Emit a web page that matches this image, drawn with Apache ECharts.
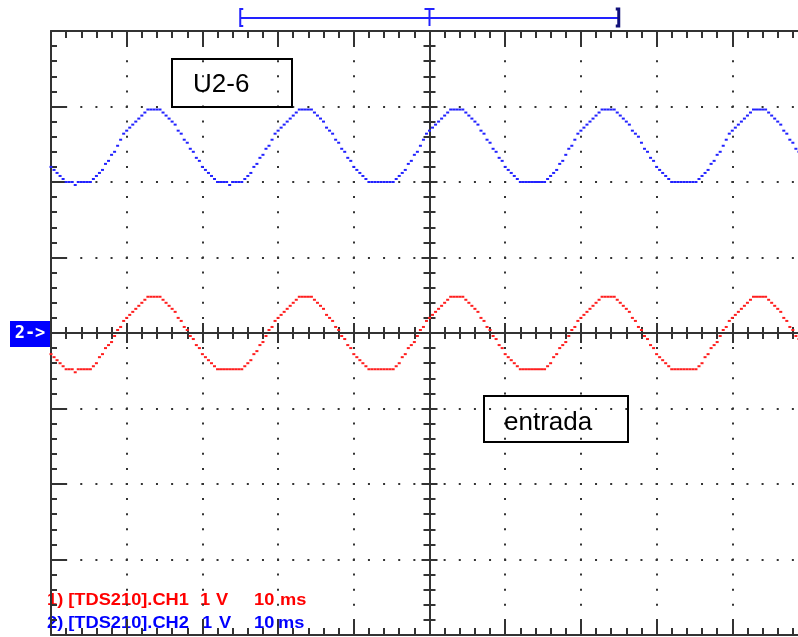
<!DOCTYPE html>
<html>
<head>
<meta charset="utf-8">
<script src="https://cdn.jsdelivr.net/npm/echarts@6/dist/echarts.min.js"></script>
<style>
  html, body { margin: 0; padding: 0; background: #ffffff; }
  #chart { width: 798px; height: 637px; }
</style>
</head>
<body>
<div id="chart"></div>
<script>
// TDS210 capture: 250 samples across 10 divisions, 10 ms/div, 1 V/div
const sampleIntervalMs = 0.4;
const timeRangeMs = [0, 100];
const timeStepMs = 10;
const voltRange = [-4, 4];
const voltStep = 1;
const recordBarMs = [25, 50, 75];

// CH1 (red): input signal "entrada", volts
const ch1Volts = [
  -0.28, -0.32, -0.36, -0.40, -0.44, -0.48, -0.48, -0.48, -0.52, -0.48, -0.48, -0.48, -0.48, -0.48,
  -0.44, -0.40, -0.32, -0.28, -0.20, -0.16, -0.12, -0.04, 0.04, 0.08, 0.16, 0.20, 0.24, 0.28, 0.32, 0.36, 0.40, 0.44,
  0.48, 0.48, 0.48, 0.48, 0.48,
  0.44, 0.40, 0.36, 0.32, 0.28, 0.20, 0.16, 0.08, 0.04, -0.04, -0.08, -0.16, -0.20, -0.28, -0.32, -0.36, -0.40, -0.44,
  -0.48, -0.48, -0.48, -0.48,
  -0.48, -0.48, -0.48, -0.48, -0.48,
  -0.44, -0.40, -0.36, -0.28, -0.24, -0.16, -0.12, -0.04, 0.04, 0.08, 0.16, 0.20, 0.24, 0.28, 0.32, 0.36, 0.40, 0.44,
  0.48, 0.48, 0.48, 0.48, 0.48,
  0.44, 0.40, 0.36, 0.32, 0.24, 0.20, 0.16, 0.08, 0.04, -0.04, -0.08, -0.16, -0.20, -0.28, -0.32, -0.36, -0.40, -0.44,
  -0.48, -0.48, -0.48, -0.48,
  -0.48, -0.48, -0.48, -0.48, -0.48,
  -0.44, -0.40, -0.32, -0.28, -0.20, -0.16, -0.12, -0.04, 0.04, 0.08, 0.16, 0.20, 0.24, 0.28, 0.32, 0.36, 0.40, 0.44,
  0.48, 0.48, 0.48, 0.48, 0.48,
  0.44, 0.40, 0.36, 0.32, 0.28, 0.20, 0.16, 0.08, 0.04, -0.04, -0.08, -0.16, -0.20, -0.28, -0.32, -0.36, -0.40, -0.44,
  -0.48, -0.48, -0.48, -0.48,
  -0.48, -0.48, -0.48, -0.48, -0.48,
  -0.44, -0.40, -0.32, -0.28, -0.20, -0.16, -0.12, -0.04, 0.04, 0.08, 0.16, 0.20, 0.24, 0.28, 0.32, 0.36, 0.40, 0.44,
  0.48, 0.48, 0.48, 0.48, 0.48,
  0.44, 0.40, 0.36, 0.32, 0.28, 0.20, 0.16, 0.08, 0.04, -0.04, -0.08, -0.16, -0.20, -0.28, -0.32, -0.36, -0.40, -0.44,
  -0.48, -0.48, -0.48, -0.48,
  -0.48, -0.48, -0.48, -0.48, -0.48,
  -0.44, -0.40, -0.32, -0.28, -0.20, -0.16, -0.12, -0.04, 0.04, 0.08, 0.16, 0.20, 0.24, 0.28, 0.32, 0.36, 0.40, 0.44,
  0.48, 0.48, 0.48, 0.48, 0.48,
  0.44, 0.40, 0.36, 0.32, 0.28, 0.20, 0.16, 0.08, 0.04, -0.04, -0.08, -0.16, -0.20, -0.28
];

// CH2 (blue): U2-6, volts
const ch2Volts = [
  2.20, 2.16, 2.12, 2.08, 2.04, 2.00, 2.00, 2.00, 1.96, 2.00, 2.00, 2.00, 2.00, 2.00,
  2.04, 2.08, 2.12, 2.16, 2.24, 2.28, 2.36, 2.40, 2.48, 2.56, 2.64, 2.68, 2.72, 2.76, 2.80, 2.84, 2.88, 2.92,
  2.96, 2.96, 2.96, 2.96, 2.96,
  2.92, 2.88, 2.84, 2.80, 2.76, 2.68, 2.64, 2.56, 2.52, 2.44, 2.40, 2.32, 2.28, 2.20, 2.16, 2.12, 2.08, 2.04,
  2.00, 2.00, 2.00, 2.00,
  1.96, 2.00, 2.00, 2.00, 2.00,
  2.04, 2.08, 2.12, 2.20, 2.24, 2.32, 2.36, 2.44, 2.48, 2.56, 2.64, 2.68, 2.72, 2.76, 2.80, 2.84, 2.88, 2.92,
  2.96, 2.96, 2.96, 2.96, 2.96,
  2.92, 2.88, 2.84, 2.80, 2.72, 2.68, 2.64, 2.56, 2.52, 2.44, 2.40, 2.32, 2.28, 2.20, 2.16, 2.12, 2.08, 2.04,
  2.00, 2.00, 2.00, 2.00,
  2.00, 2.00, 2.00, 2.00, 2.00,
  2.04, 2.08, 2.12, 2.16, 2.24, 2.28, 2.36, 2.40, 2.48, 2.56, 2.64, 2.68, 2.72, 2.76, 2.80, 2.84, 2.88, 2.92,
  2.96, 2.96, 2.96, 2.96, 2.96,
  2.92, 2.88, 2.84, 2.80, 2.76, 2.68, 2.64, 2.56, 2.52, 2.44, 2.40, 2.32, 2.28, 2.20, 2.16, 2.12, 2.08, 2.04,
  2.00, 2.00, 2.00, 2.00,
  2.00, 2.00, 2.00, 2.00, 2.00,
  2.04, 2.08, 2.12, 2.16, 2.24, 2.28, 2.36, 2.44, 2.48, 2.56, 2.64, 2.68, 2.72, 2.76, 2.80, 2.84, 2.88, 2.92,
  2.96, 2.96, 2.96, 2.96, 2.96,
  2.92, 2.88, 2.84, 2.80, 2.76, 2.68, 2.64, 2.60, 2.52, 2.44, 2.40, 2.32, 2.28, 2.20, 2.16, 2.12, 2.08, 2.04,
  2.00, 2.00, 2.00, 2.00,
  2.00, 2.00, 2.00, 2.00, 2.00,
  2.04, 2.08, 2.12, 2.16, 2.24, 2.28, 2.36, 2.40, 2.48, 2.56, 2.64, 2.68, 2.72, 2.76, 2.80, 2.84, 2.88, 2.92,
  2.96, 2.96, 2.96, 2.96, 2.96,
  2.92, 2.88, 2.84, 2.80, 2.76, 2.68, 2.64, 2.56, 2.52, 2.44, 2.40, 2.32, 2.28, 2.20
];

const traceLabels = ['U2-6', 'entrada'];
const channelMarker = '2->';
const ch1Readout = ['1) [TDS210].CH1', '1', 'V', '10', 'ms'];
const ch2Readout = ['2) [TDS210].CH2', '1', 'V', '10', 'ms'];

// ---- layout & styling ----
const GRID = { left: 51, top: 31, width: 757, height: 604 };
const INK = '#333333';
const RED = '#ff1e1e';
const BLUE = '#2222ff';
const DOT_X = GRID.width / 50;   // minor division along time
const DOT_Y = GRID.height / 40;  // minor division along volts

function timeAxis(position, offset, major, minor, split) {
  return {
    type: 'value', position: position, offset: offset,
    min: timeRangeMs[0], max: timeRangeMs[1], interval: timeStepMs,
    axisLine: { show: true, onZero: false, lineStyle: { color: INK, width: 2 } },
    axisTick: { show: true, inside: true, length: major, lineStyle: { color: INK, width: 2 } },
    minorTick: { show: true, splitNumber: 5, length: minor, lineStyle: { color: INK, width: 2 } },
    axisLabel: { show: false },
    splitLine: split ? { show: true, lineStyle: { color: INK, width: 2, type: [2, DOT_Y - 2], dashOffset: 1 } } : { show: false },
    minorSplitLine: { show: false }
  };
}
function voltAxis(position, offset, major, minor, split) {
  return {
    type: 'value', position: position, offset: offset,
    min: voltRange[0], max: voltRange[1], interval: voltStep,
    axisLine: { show: true, onZero: false, lineStyle: { color: INK, width: 2 } },
    axisTick: { show: true, inside: true, length: major, lineStyle: { color: INK, width: 2 } },
    minorTick: { show: true, splitNumber: 5, length: minor, lineStyle: { color: INK, width: 2 } },
    axisLabel: { show: false },
    splitLine: split ? { show: true, lineStyle: { color: INK, width: 2, type: [2, DOT_X - 2], dashOffset: 1 } } : { show: false },
    minorSplitLine: { show: false }
  };
}

const halfH = GRID.height / 2;
const halfW = GRID.width / 2;

function trace(name, volts, color) {
  return {
    type: 'scatter', name: name,
    xAxisIndex: 0, yAxisIndex: 0,
    data: volts.map((v, i) => [i * sampleIntervalMs, v]),
    symbol: 'rect', symbolSize: [3, 2],
    itemStyle: { color: color, opacity: 1 },
    silent: true, z: 3
  };
}

const chart = echarts.init(document.getElementById('chart'), null, { renderer: 'canvas' });
chart.setOption({
  animation: false,
  backgroundColor: '#ffffff',
  grid: Object.assign({ outerBoundsMode: 'none', containLabel: false }, GRID),
  xAxis: [
    timeAxis('bottom', 0, 15, 7, true),
    timeAxis('top', 0, 15, 7, false),
    timeAxis('bottom', -halfH, 10, 6, false),
    timeAxis('top', -halfH, 10, 6, false)
  ],
  yAxis: [
    voltAxis('left', 0, 16, 6, true),
    voltAxis('left', -halfW, 8, 6, false),
    voltAxis('right', -halfW, 8, 6, false)
  ],
  series: [
    trace('CH1', ch1Volts, RED),
    trace('CH2', ch2Volts, BLUE)
  ]
});

// ---- overlays: record bar, channel marker, labels, readout ----
const px = t => chart.convertToPixel({ xAxisIndex: 0 }, t);
const py = v => chart.convertToPixel({ yAxisIndex: 0 }, v);
const xa = px(recordBarMs[0]), xm = px(recordBarMs[1]), xb = px(recordBarMs[2]);
const barY = 18, barTop = 9, barBot = 26;
const zeroY = py(0);

function readout(parts, xs, y, color) {
  return parts.map((txt, i) => ({
    type: 'text', x: xs[i], y: y, scaleX: 1.14, z: -1,
    style: { text: txt, x: 0, y: 0, fill: color, font: 'bold 16px "Liberation Sans", Arial, sans-serif', verticalAlign: 'middle', align: 'left' }
  }));
}

const ln = (x1, y1, x2, y2, color, w) => ({
  type: 'line', shape: { x1: x1, y1: y1, x2: x2, y2: y2 },
  style: { stroke: color, lineWidth: w }, silent: true
});

chart.setOption({
  graphic: [].concat(
    [
      ln(xa, barY, xb, barY, BLUE, 2),
      { type: 'polyline', shape: { points: [[xa + 3, barTop], [xa, barTop], [xa, barBot], [xa + 3, barBot]] }, style: { stroke: BLUE, lineWidth: 2, fill: null } },
      ln(xm - 5, barTop, xm + 5, barTop, BLUE, 2),
      ln(xm, barTop, xm, barBot, BLUE, 2),
      { type: 'polyline', shape: { points: [[xb - 3, barTop], [xb, barTop], [xb, barBot], [xb - 3, barBot]] }, style: { stroke: '#10107a', lineWidth: 3, fill: null } },
      { type: 'rect', shape: { x: 10, y: zeroY - 12, width: 40, height: 26 }, style: { fill: '#0000ff' } },
      { type: 'text', x: 30, y: zeroY + 1, style: { text: channelMarker, fill: '#ffffff', font: 'bold 17px "DejaVu Sans Mono", monospace', align: 'center', verticalAlign: 'middle' } },
      { type: 'rect', shape: { x: 172, y: 59, width: 120, height: 48 }, style: { fill: null, stroke: '#000000', lineWidth: 2 } },
      { type: 'text', x: 193, y: 85, style: { text: traceLabels[0], fill: '#000000', font: '26px "Liberation Sans", Arial, sans-serif', align: 'left', verticalAlign: 'middle' } },
      { type: 'rect', shape: { x: 484, y: 396, width: 144, height: 46 }, style: { fill: null, stroke: '#000000', lineWidth: 2 } },
      { type: 'text', x: 504, y: 423, style: { text: traceLabels[1], fill: '#000000', font: '26px "Liberation Sans", Arial, sans-serif', align: 'left', verticalAlign: 'middle' } }
    ],
    readout(ch1Readout, [47, 200, 216, 254, 280], 601, '#ff0000'),
    readout(ch2Readout, [47, 202, 219, 254, 278], 623.5, '#0000ff')
  )
});
</script>
</body>
</html>
